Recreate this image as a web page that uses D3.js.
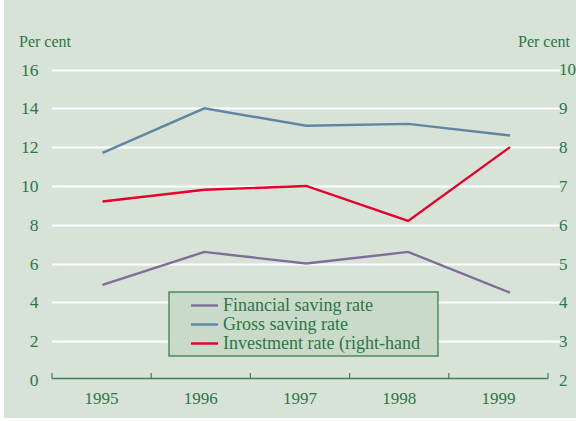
<!DOCTYPE html>
<html>
<head>
<meta charset="utf-8">
<script src="https://cdn.jsdelivr.net/npm/d3@7"></script>
<style>
  html, body { margin: 0; padding: 0; background: #ffffff; }
  svg { display: block; }
  svg text { font-family: "Liberation Serif", "Times New Roman", Times, serif !important; fill: #2b7746; }
</style>
</head>
<body>
<div id="chart"></div>
<script>
// Saving and investment rates, 1995-1999
const years = ["1995", "1996", "1997", "1998", "1999"];
const financialSaving = [4.9, 6.6, 6.0, 6.6, 4.5];   // left scale
const grossSaving = [11.7, 14.0, 13.1, 13.2, 12.6];  // left scale
const investmentRate = [6.6, 6.9, 7.0, 6.1, 8.0];    // right scale
const leftTicks = [0, 2, 4, 6, 8, 10, 12, 14, 16];
const rightTicks = [2, 3, 4, 5, 6, 7, 8, 9, 10];
const seriesNames = ["Financial saving rate", "Gross saving rate", "Investment rate (right-hand"];
const seriesColors = ["#7e6e98", "#5f86a4", "#e4002b"];

const FONT = "'Liberation Serif', 'Times New Roman', Times, serif";
const W = 576, H = 421;
const svg = d3.select("#chart").append("svg").attr("width", W).attr("height", H)
  .attr("font-family", FONT);

// panel background
svg.append("rect").attr("x", 4).attr("y", 0).attr("width", W - 4).attr("height", H - 3)
  .attr("fill", "#d7e3d7");

const plot = { left: 52, right: 548, top: 69.5, bottom: 380 };

const xBand = d3.scaleBand().domain(years).range([plot.left, plot.right]);
const xPoint = d3.scalePoint().domain(years).range([102.5, 510]);
const yLeft = d3.scaleLinear().domain([0, 16]).range([plot.bottom, plot.top]);
const yRight = d3.scaleLinear().domain([2, 10]).range([plot.bottom, plot.top]);

// horizontal grid lines
svg.append("g").selectAll("line").data(leftTicks.filter(d => d > 0)).join("line")
  .attr("x1", plot.left).attr("x2", 560)
  .attr("y1", d => Math.round(yLeft(d)) + 0.5).attr("y2", d => Math.round(yLeft(d)) + 0.5)
  .attr("stroke", "#ffffff").attr("stroke-width", 2);

// left axis labels
const leftAxis = d3.axisLeft(yLeft).tickValues(leftTicks).tickSize(0).tickPadding(0);
const gL = svg.append("g").attr("transform", "translate(38.5,0)").call(leftAxis)
  .attr("font-family", FONT).attr("font-size", 17.5);
gL.select(".domain").remove();
gL.selectAll("text").attr("fill", "#2b7746");

// right axis labels
const rightAxis = d3.axisRight(yRight).tickValues(rightTicks).tickSize(0).tickPadding(0);
const gR = svg.append("g").attr("transform", "translate(559,0)").call(rightAxis)
  .attr("font-family", FONT).attr("font-size", 17);
gR.select(".domain").remove();
gR.selectAll("text").attr("fill", "#2b7746");

// x axis: baseline with category boundary ticks
const bounds = years.map(y => xBand(y)).concat([plot.right]);
const gX = svg.append("g");
gX.append("line").attr("x1", plot.left).attr("x2", plot.right)
  .attr("y1", plot.bottom - 1.5).attr("y2", plot.bottom - 1.5)
  .attr("stroke", "#3f8058").attr("stroke-width", 1.5);
gX.selectAll("line.tick").data(bounds).join("line").attr("class", "tick")
  .attr("x1", d => d).attr("x2", d => d)
  .attr("y1", plot.bottom - 1.5).attr("y2", plot.bottom - 7)
  .attr("stroke", "#3f8058").attr("stroke-width", 1.2);
gX.selectAll("text").data(years).join("text")
  .attr("x", d => xBand(d) + xBand.bandwidth() / 2).attr("y", 404)
  .attr("text-anchor", "middle").attr("font-size", 17).text(d => d);

// axis unit labels
svg.append("text").attr("x", 19).attr("y", 47).attr("font-size", 16).text("Per cent");
svg.append("text").attr("x", 518).attr("y", 47).attr("font-size", 16).text("Per cent");

// series lines
const series = [
  { values: financialSaving, y: yLeft },
  { values: grossSaving, y: yLeft },
  { values: investmentRate, y: yRight }
];
series.forEach((s, i) => {
  const line = d3.line().x((d, j) => xPoint(years[j])).y(d => s.y(d));
  svg.append("path").datum(s.values).attr("d", line)
    .attr("fill", "none").attr("stroke", seriesColors[i]).attr("stroke-width", 2.4)
    .attr("stroke-linejoin", "miter");
});

// legend box
const lg = { x: 169, y: 292, w: 269, h: 64 };
svg.append("rect").attr("x", lg.x).attr("y", lg.y).attr("width", lg.w).attr("height", lg.h)
  .attr("fill", "#c9dac9").attr("stroke", "#2f7349").attr("stroke-width", 1.2);
const legend = svg.append("g");
seriesNames.forEach((name, i) => {
  const cy = 305.5 + i * 19;
  legend.append("line").attr("x1", 191).attr("x2", 218).attr("y1", cy).attr("y2", cy)
    .attr("stroke", seriesColors[i]).attr("stroke-width", 2.4);
  legend.append("text").attr("x", 223).attr("y", cy + 5.5).attr("font-size", 18).text(name);
});
</script>
</body>
</html>
